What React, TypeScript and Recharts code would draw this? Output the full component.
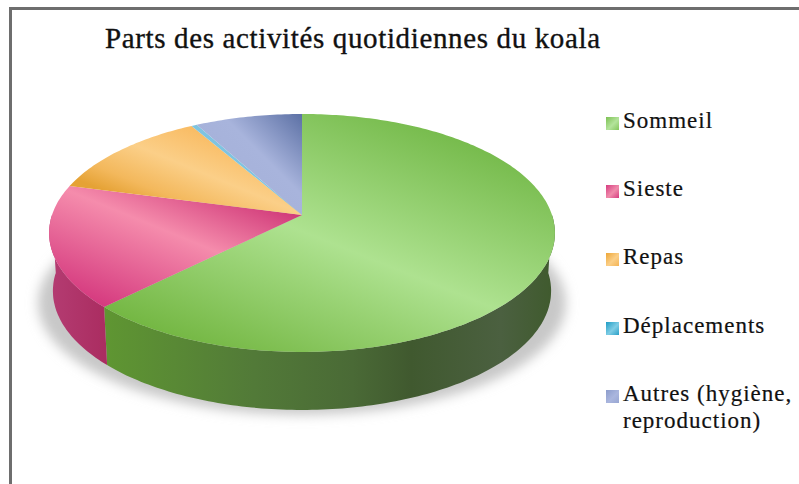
import { PieChart, Pie, Legend } from "recharts";

const categories = ["Sommeil", "Sieste", "Repas", "Déplacements", "Autres (hygiène, reproduction)"];
// hours per day
const hours = [15, 4, 3, 0.1, 1.9];

const swatches = [
  "linear-gradient(135deg,#7cc052,#b4e49c 55%,#84c65c)",
  "linear-gradient(135deg,#d63c80,#f08cac 55%,#d63c80)",
  "linear-gradient(135deg,#eda636,#fbcf88 55%,#f4b454)",
  "linear-gradient(135deg,#1f9cc4,#7fcde5 55%,#2ba0c8)",
  "linear-gradient(135deg,#8c9ccb,#aab6de 55%,#98a6d2)",
];
const topFills = ["url(#topGreen)", "url(#topPink)", "url(#topOrange)", "#7fc4e0", "url(#topBlue)"];
const sideFills = ["url(#sideGreen)", "url(#sidePink)", "#c98a30", "#3c8ca8", "#6f7ea8"];

const data = categories.map((name, i) => ({ name, value: hours[i] }));

// perspective of the tilted disc
const TILT = 0.151;
const SQUASH = 0.465;
const DEPTH = 58;
const SHRINK = 0.985;

function rim(theta: number, cx: number, cy: number, r: number, drop = 0, scale = 1) {
  const t = (theta * Math.PI) / 180;
  const u = Math.sin(t);
  const v = Math.cos(t);
  const w = 1 / (1 + TILT * v);
  return `${(cx + r * u * w * scale).toFixed(1)},${(cy - r * SQUASH * v * w + drop).toFixed(1)}`;
}

function arcPoints(from: number, to: number, cx: number, cy: number, r: number, drop = 0, scale = 1) {
  const pts: string[] = [];
  const step = to >= from ? 1 : -1;
  for (let a = from; step > 0 ? a < to : a > to; a += step) pts.push(rim(a, cx, cy, r, drop, scale));
  pts.push(rim(to, cx, cy, r, drop, scale));
  return pts;
}

function DiscSlice(props: any) {
  const { cx, cy, outerRadius, startAngle, endAngle, name, payload } = props;
  const i = categories.indexOf(name ?? payload?.name);
  const from = 90 - startAngle;
  const to = 90 - endAngle;
  const top = [`${cx},${cy}`, ...arcPoints(from, to, cx, cy, outerRadius)].join(" ");
  // only the front half of the rim shows a wall
  const a = Math.max(from, 90);
  const b = Math.min(to, 270);
  const wall =
    b > a
      ? [
          ...arcPoints(a, b, cx, cy, outerRadius),
          ...arcPoints(b, a, cx, cy, outerRadius, DEPTH, SHRINK),
        ].join(" ")
      : null;
  return (
    <g>
      {wall && <polygon points={wall} fill={sideFills[i]} />}
      <polygon points={top} fill={topFills[i]} />
    </g>
  );
}

function KoalaLegend({ payload }: any) {
  return (
    <div style={{ position: "absolute", left: 606, top: 107, width: 190, fontFamily: "Liberation Serif", fontSize: 23, color: "#111", lineHeight: "27px", WebkitTextStroke: "0.2px #111" }}>
      {(payload ?? []).map((item: any, i: number) => (
        <div key={item.value} style={{ height: 68.2, paddingLeft: 17, position: "relative", letterSpacing: 1 }}>
          <span style={{ position: "absolute", left: 0, top: 10, width: 13, height: 13, background: swatches[i] }} />
          {item.value}
        </div>
      ))}
    </div>
  );
}

export default function App() {
  return (
    <div style={{ position: "absolute", left: 0, top: 0, width: 799, height: 484, background: "#fff", overflow: "hidden" }}>
      <div style={{ position: "absolute", left: 9, top: 7, width: 790, height: 477, borderLeft: "3px solid #6e6e6e", borderTop: "3px solid #6e6e6e", boxSizing: "border-box" }} />
      <svg width={799} height={484} style={{ position: "absolute", left: 0, top: 0 }}>
        <defs>
          <filter id="soft" x="-10%" y="-10%" width="120%" height="120%">
            <feGaussianBlur stdDeviation="6" />
          </filter>
        </defs>
        <ellipse cx={302} cy={303} rx={264} ry={112} fill="#c8c8c8" filter="url(#soft)" />
      </svg>
      <div style={{ position: "absolute", left: 0, top: 0 }}>
        <PieChart width={799} height={484} margin={{ top: 0, right: 0, bottom: 0, left: 0 }}>
          <defs>
            <linearGradient id="topGreen" gradientUnits="userSpaceOnUse" x1={285} y1={383} x2={392} y2={115}>
              <stop offset="0" stopColor="#74b743" />
              <stop offset="0.51" stopColor="#aee290" />
              <stop offset="1" stopColor="#78bc4e" />
            </linearGradient>
            <linearGradient id="topPink" gradientUnits="userSpaceOnUse" x1={125} y1={313} x2={185} y2={167}>
              <stop offset="0" stopColor="#d63c80" />
              <stop offset="0.58" stopColor="#f58cac" />
              <stop offset="1" stopColor="#d03878" />
            </linearGradient>
            <linearGradient id="topOrange" gradientUnits="userSpaceOnUse" x1={166} y1={216} x2={200} y2={133}>
              <stop offset="0" stopColor="#e5a235" />
              <stop offset="0.22" stopColor="#f3b85c" />
              <stop offset="0.6" stopColor="#fbcf88" />
              <stop offset="1" stopColor="#f9bd66" />
            </linearGradient>
            <linearGradient id="topBlue" gradientUnits="userSpaceOnUse" x1={300} y1={115} x2={240} y2={175}>
              <stop offset="0" stopColor="#5f73a7" />
              <stop offset="0.65" stopColor="#a8b4dc" />
              <stop offset="1" stopColor="#a6b2da" />
            </linearGradient>
            <linearGradient id="sideGreen" gradientUnits="userSpaceOnUse" x1={105} y1={0} x2={555} y2={0}>
              <stop offset="0" stopColor="#5f9632" />
              <stop offset="0.33" stopColor="#527a38" />
              <stop offset="0.55" stopColor="#4a6a36" />
              <stop offset="0.68" stopColor="#40592f" />
              <stop offset="0.88" stopColor="#4b6040" />
              <stop offset="1" stopColor="#3f5a2d" />
            </linearGradient>
            <linearGradient id="sidePink" gradientUnits="userSpaceOnUse" x1={50} y1={0} x2={108} y2={0}>
              <stop offset="0" stopColor="#b43c72" />
              <stop offset="1" stopColor="#aa2c60" />
            </linearGradient>
          </defs>
          <text x={105} y={48} fontFamily="Liberation Serif" fontSize={29} fill="#111" stroke="#111" strokeWidth={0.35} textLength={495} lengthAdjust="spacing">
            Parts des activités quotidiennes du koala
          </text>
          <Pie
            data={data}
            dataKey="value"
            nameKey="name"
            cx={302}
            cy={215}
            outerRadius={250}
            startAngle={90}
            endAngle={-270}
            stroke="none"
            label={false}
            labelLine={false}
            shape={DiscSlice}
            isAnimationActive={false}
          />
          <Legend itemSorter={null} content={<KoalaLegend />} wrapperStyle={{ position: "absolute", left: 0, top: 0, width: 0, height: 0 }} />
        </PieChart>
      </div>
    </div>
  );
}
